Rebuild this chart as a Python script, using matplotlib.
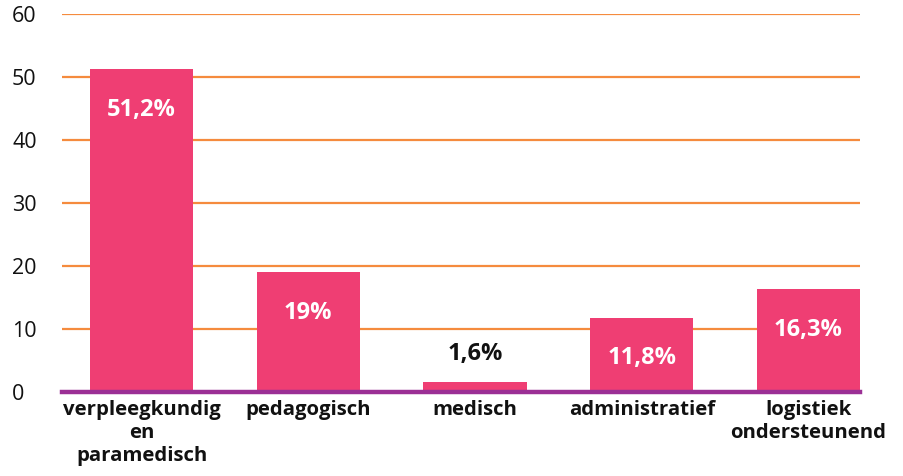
import matplotlib.pyplot as plt

# data
categorieen = ["verpleegkundig\nen\nparamedisch", "pedagogisch", "medisch",
               "administratief", "logistiek\nondersteunend"]
percentages = [51.2, 19, 1.6, 11.8, 16.3]
labels = ["51,2%", "19%", "1,6%", "11,8%", "16,3%"]
y_ticks = [0, 10, 20, 30, 40, 50, 60]

roze = "#EF3E73"
oranje = "#F58B3E"
paars = "#9B2F95"

plt.rcParams['font.family'] = ['Open Sans', 'DejaVu Sans']

fig = plt.figure(figsize=(9.04, 4.76), dpi=100)
ax = fig.add_axes([0.0686, 0.1765, 0.8827, 0.7941])

x = list(range(len(categorieen)))
ax.bar(x, percentages, width=0.62, color=roze, zorder=2)

# rasterlijnen
for t in y_ticks[1:]:
    ax.axhline(t, color=oranje, linewidth=1.6, zorder=1)
ax.axhline(0, color=paars, linewidth=3.2, zorder=3, clip_on=False)

# waarde-labels
for xi, val, lab in zip(x, percentages, labels):
    if val > 5:
        ax.annotate(lab, (xi, val), xytext=(0, -29), textcoords='offset points',
                    ha='center', va='center', color='white', fontsize=17,
                    fontweight='bold')
    else:
        ax.annotate(lab, (xi, val), xytext=(0, 20), textcoords='offset points',
                    ha='center', va='center', color='#111111', fontsize=17,
                    fontweight='bold')

ax.set_xlim(-0.477, 4.309)
ax.set_ylim(0, 60)
ax.set_yticks(y_ticks)
ax.set_xticks(x)
ax.set_xticklabels(categorieen, fontsize=14.7, fontweight='bold', color='#111111',
                   linespacing=1.2)
ax.tick_params(axis='x', length=0, pad=6)
ax.tick_params(axis='y', length=0, pad=36, labelsize=15.5, labelcolor='#111111')
for lab in ax.get_yticklabels():
    lab.set_horizontalalignment('left')

for s in ax.spines.values():
    s.set_visible(False)

fig.savefig("out.png", dpi=100)
